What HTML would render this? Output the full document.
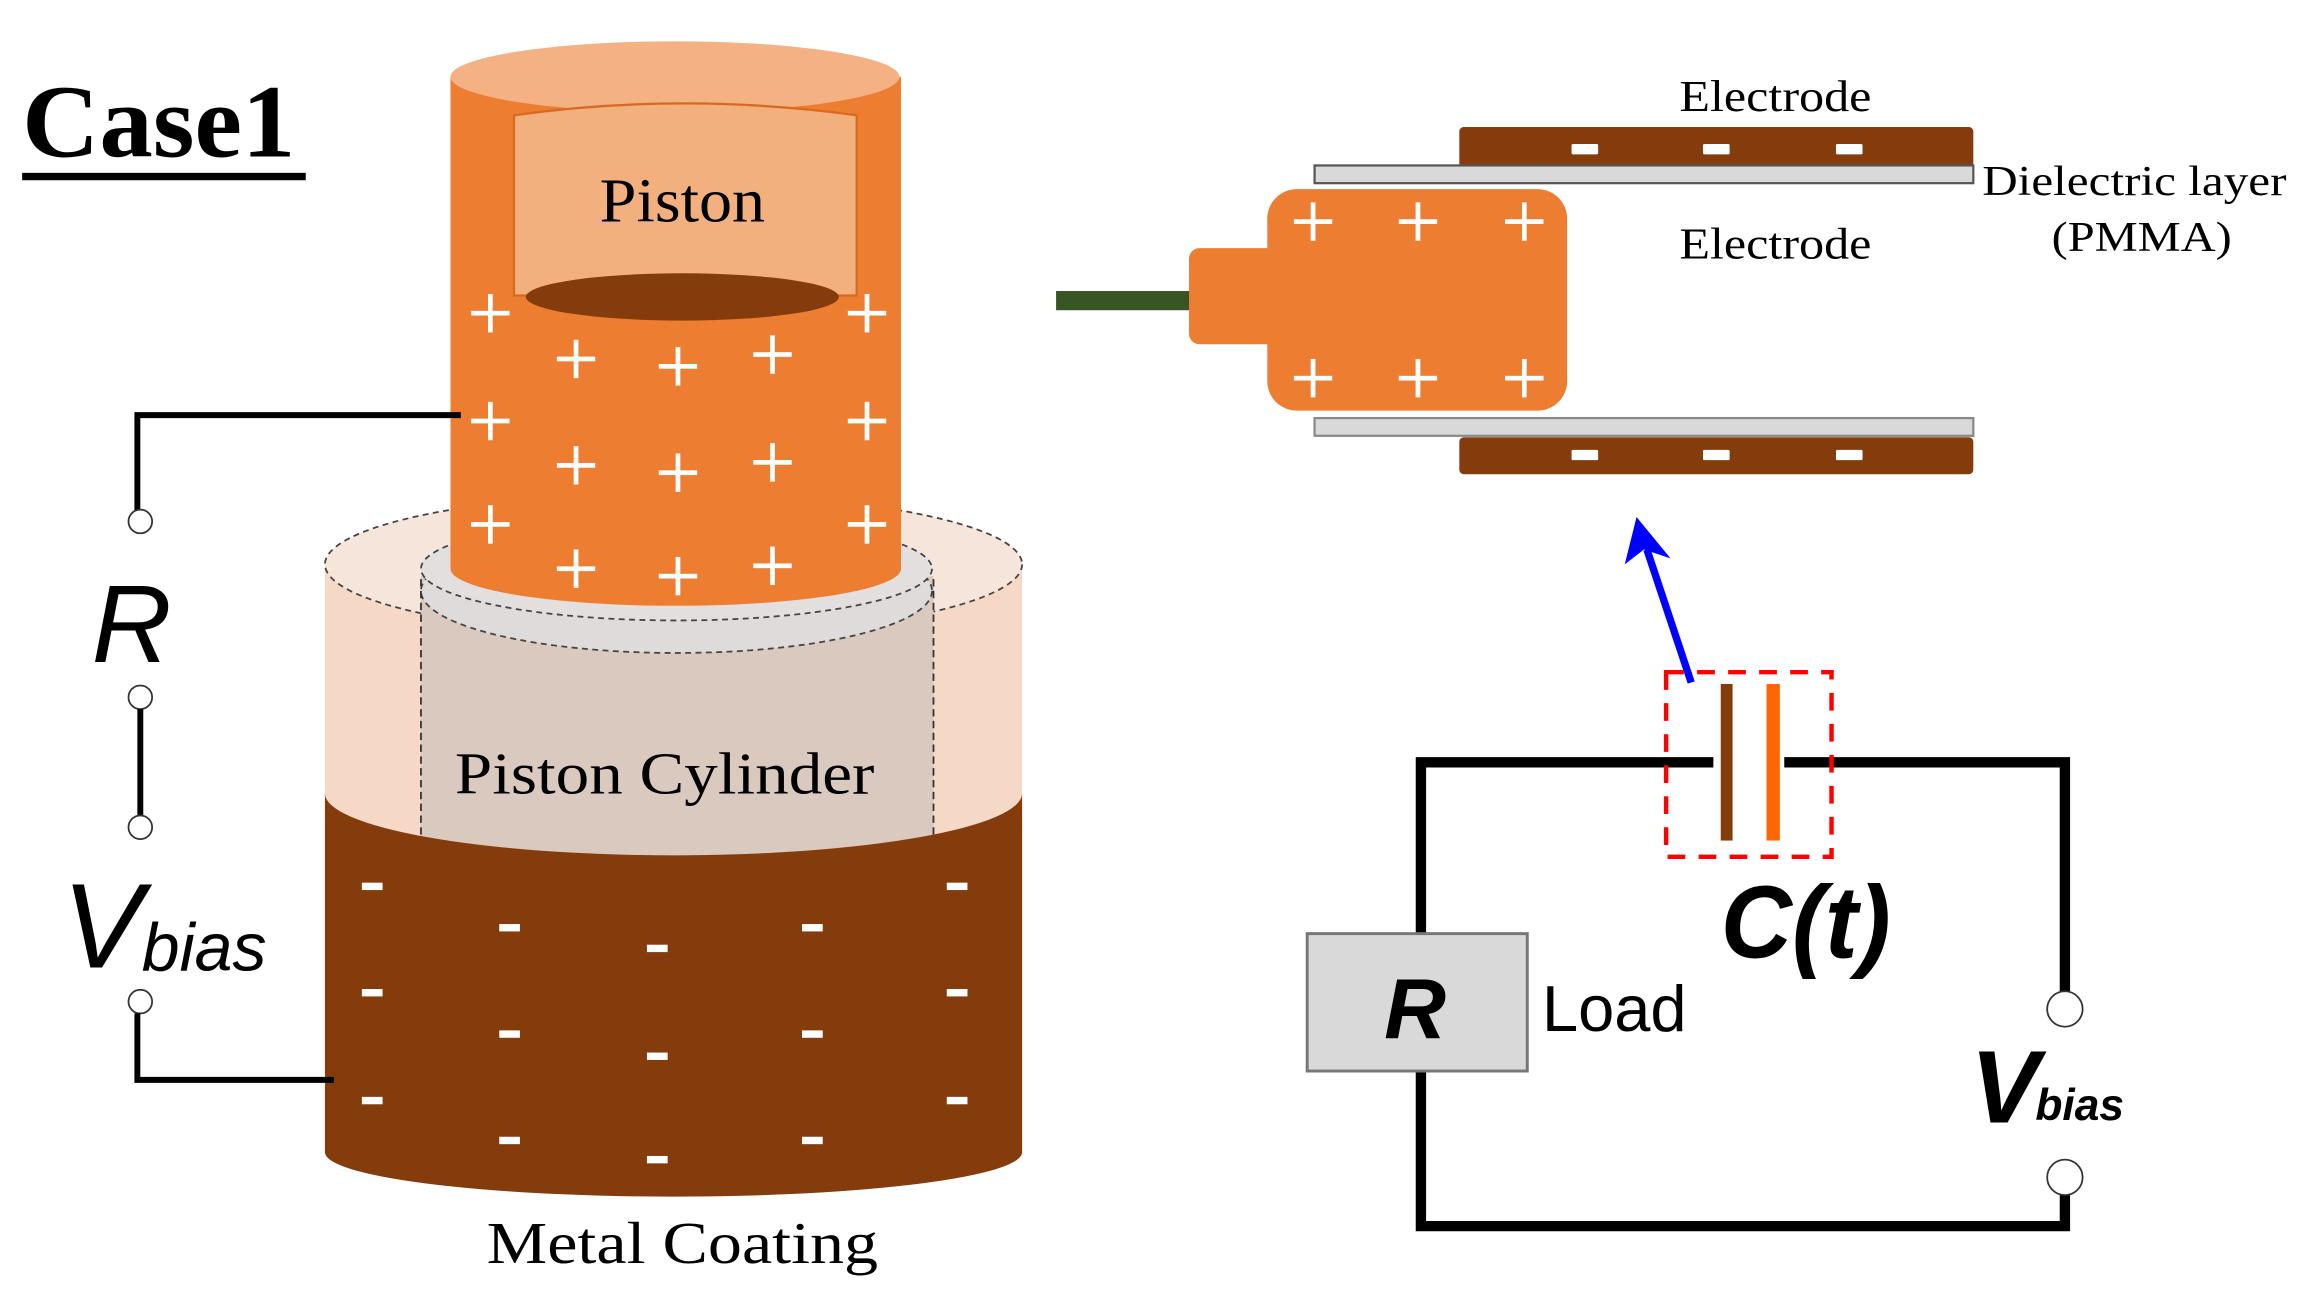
<!DOCTYPE html>
<html><head><meta charset="utf-8"><style>
html,body{margin:0;padding:0;background:#fff;}
svg{display:block;}
.serif{font-family:"Liberation Serif",serif;}
.sans{font-family:"Liberation Sans","DejaVu Sans",sans-serif;}
</style></head><body>
<svg width="2316" height="1300" viewBox="0 0 1568 880" preserveAspectRatio="none" xmlns="http://www.w3.org/2000/svg">
<defs>
<g id="plus"><rect x="-13" y="-1.6" width="26" height="3.2" fill="#fff"/><rect x="-1.6" y="-13" width="3.2" height="26" fill="#fff"/></g>
<g id="minus"><rect x="-7" y="-2.5" width="14" height="5" fill="#fff"/></g>
<g id="emin"><rect x="-9" y="-3.5" width="18" height="7" fill="#fff" rx="1"/></g>
</defs>

<text x="15" y="106" class="serif" font-size="70" font-weight="bold" textLength="185" lengthAdjust="spacingAndGlyphs">Case1</text>
<rect x="15" y="117" width="192" height="5" fill="#000"/>

<path d="M220 382 L220 780 A236 30 0 0 0 692 780 L692 382 Z" fill="#F5D9C6"/>
<ellipse cx="456" cy="382" rx="236" ry="48" fill="#F6E5DA" stroke="#444" stroke-width="1.2" stroke-dasharray="4,3"/>
<rect x="285" y="390" width="347" height="200" fill="#D9C9BF"/>
<ellipse cx="458" cy="400" rx="173" ry="42" fill="#E0DBDB" stroke="#444" stroke-width="1.2" stroke-dasharray="4,3"/>
<ellipse cx="458" cy="385" rx="173" ry="35" fill="#E3DFDF" stroke="#444" stroke-width="1.2" stroke-dasharray="4,3"/>
<line x1="285" y1="392" x2="285" y2="570" stroke="#333" stroke-width="1.2" stroke-dasharray="5,3"/>
<line x1="632" y1="392" x2="632" y2="570" stroke="#333" stroke-width="1.2" stroke-dasharray="5,3"/>
<text x="450" y="537" class="serif" font-size="40" text-anchor="middle" textLength="284" lengthAdjust="spacingAndGlyphs">Piston Cylinder</text>
<path d="M220 537 A236 42 0 0 0 692 537 L692 780 A236 30 0 0 1 220 780 Z" fill="#843C0C"/>

<path d="M305 52 L305 385 A152 25 0 0 0 610 385 L610 52 Z" fill="#ED7D31"/>
<ellipse cx="457" cy="52" rx="152" ry="24" fill="#F4B183"/>
<path d="M348 78 Q462 62 580 78 L580 200 L348 200 Z" fill="#F2B07F" stroke="#D86A20" stroke-width="1.5"/>
<ellipse cx="462" cy="201" rx="106" ry="16" fill="#843C0C"/>
<text x="462" y="150" class="serif" font-size="42" text-anchor="middle" textLength="112" lengthAdjust="spacingAndGlyphs">Piston</text>
<use href="#plus" x="332" y="212"/><use href="#plus" x="587" y="212"/>
<use href="#plus" x="390" y="243"/><use href="#plus" x="459" y="248"/><use href="#plus" x="523" y="240"/>
<use href="#plus" x="332" y="285"/><use href="#plus" x="587" y="285"/>
<use href="#plus" x="390" y="315"/><use href="#plus" x="459" y="320"/><use href="#plus" x="523" y="313"/>
<use href="#plus" x="332" y="355"/><use href="#plus" x="587" y="355"/>
<use href="#plus" x="390" y="385"/><use href="#plus" x="459" y="390"/><use href="#plus" x="523" y="383"/>

<use href="#minus" x="252" y="600"/><use href="#minus" x="648" y="600"/>
<use href="#minus" x="345" y="628"/><use href="#minus" x="445" y="642"/><use href="#minus" x="550" y="628"/>
<use href="#minus" x="252" y="672"/><use href="#minus" x="648" y="672"/>
<use href="#minus" x="345" y="700"/><use href="#minus" x="445" y="715"/><use href="#minus" x="550" y="700"/>
<use href="#minus" x="252" y="745"/><use href="#minus" x="648" y="745"/>
<use href="#minus" x="345" y="772"/><use href="#minus" x="445" y="785"/><use href="#minus" x="550" y="772"/>
<text x="462" y="855" class="serif" font-size="40" text-anchor="middle" textLength="265" lengthAdjust="spacingAndGlyphs">Metal Coating</text>

<polyline points="312,281 93,281 93,346" fill="none" stroke="#000" stroke-width="4"/>
<circle cx="95" cy="353" r="8" fill="#fff" stroke="#333" stroke-width="1.2"/>
<text x="62" y="448" class="sans" font-size="75" font-style="italic">R</text>
<circle cx="95" cy="472" r="8" fill="#fff" stroke="#333" stroke-width="1.2"/>
<line x1="95" y1="480" x2="95" y2="552" stroke="#000" stroke-width="4"/>
<circle cx="95" cy="560" r="8" fill="#fff" stroke="#333" stroke-width="1.2"/>
<text x="42" y="655" class="sans" font-size="82" font-style="italic">V</text>
<text x="96" y="657" class="sans" font-size="46" font-style="italic">bias</text>
<circle cx="95" cy="678" r="8" fill="#fff" stroke="#333" stroke-width="1.2"/>
<polyline points="93,686 93,731 226,731" fill="none" stroke="#000" stroke-width="4"/>

<rect x="715" y="197" width="92" height="13" fill="#375623"/>
<rect x="805" y="168" width="60" height="65" rx="7" fill="#ED7D31"/>
<rect x="858" y="128" width="203" height="150" rx="20" fill="#ED7D31"/>
<use href="#plus" x="889" y="150"/><use href="#plus" x="960" y="150"/><use href="#plus" x="1032" y="150"/>
<use href="#plus" x="889" y="256"/><use href="#plus" x="960" y="256"/><use href="#plus" x="1032" y="256"/>

<rect x="988" y="86" width="348" height="28" rx="3" fill="#843C0C"/>
<use href="#emin" x="1073" y="101"/><use href="#emin" x="1162" y="101"/><use href="#emin" x="1252" y="101"/>
<rect x="890" y="112" width="446" height="12" fill="#D9D9D9" stroke="#555" stroke-width="1.5"/>
<rect x="890" y="283" width="446" height="12" fill="#D9D9D9" stroke="#888" stroke-width="1.5"/>
<rect x="988" y="296" width="348" height="25" rx="3" fill="#843C0C"/>
<use href="#emin" x="1073" y="308"/><use href="#emin" x="1162" y="308"/><use href="#emin" x="1252" y="308"/>

<text x="1202" y="75" class="serif" font-size="30" text-anchor="middle" textLength="130" lengthAdjust="spacingAndGlyphs">Electrode</text>
<text x="1202" y="175" class="serif" font-size="30" text-anchor="middle" textLength="130" lengthAdjust="spacingAndGlyphs">Electrode</text>
<text x="1342" y="132" class="serif" font-size="29" textLength="206" lengthAdjust="spacingAndGlyphs">Dielectric layer</text>
<text x="1450" y="170" class="serif" font-size="29" text-anchor="middle" textLength="122" lengthAdjust="spacingAndGlyphs">(PMMA)</text>

<line x1="1145" y1="462" x2="1115" y2="372" stroke="#0000FF" stroke-width="5"/>
<polygon points="1108,350 1100,382 1113,372 1131,378" fill="#0000FF"/>

<polyline points="1160,516 962,516 962,632" fill="none" stroke="#000" stroke-width="7"/>
<polyline points="1208,516 1398,516 1398,671" fill="none" stroke="#000" stroke-width="7"/>
<polyline points="962,725 962,830 1398,830 1398,809" fill="none" stroke="#000" stroke-width="7"/>
<rect x="1165" y="463" width="8" height="106" fill="#843C0C"/>
<rect x="1196" y="463" width="9" height="106" fill="#FF6600"/>
<rect x="1128" y="455" width="112" height="125" fill="none" stroke="#FF0000" stroke-width="3" stroke-dasharray="12,9"/>
<circle cx="1398" cy="683" r="12" fill="#fff" stroke="#333" stroke-width="1.2"/>
<circle cx="1398" cy="797" r="12" fill="#fff" stroke="#333" stroke-width="1.2"/>
<rect x="885" y="632" width="149" height="93" fill="#D9D9D9" stroke="#777" stroke-width="2"/>
<text x="958" y="703" class="sans" font-size="58" font-weight="bold" font-style="italic" text-anchor="middle">R</text>
<text x="1044" y="698" class="sans" font-size="44">Load</text>
<text x="1165" y="648" class="sans" font-size="70" font-weight="bold" font-style="italic" textLength="115" lengthAdjust="spacingAndGlyphs">C(t)</text>
<text x="1334" y="760" class="sans" font-size="70" font-weight="bold" font-style="italic">V</text>
<text x="1378" y="758" class="sans" font-size="30" font-weight="bold" font-style="italic">bias</text>
</svg>
</body></html>
